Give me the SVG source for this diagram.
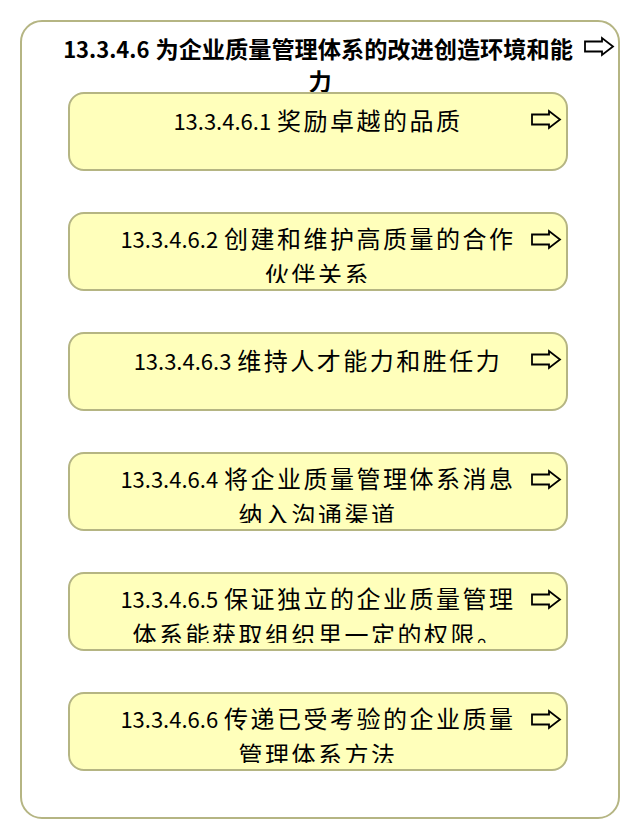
<svg xmlns="http://www.w3.org/2000/svg" xmlns:xlink="http://www.w3.org/1999/xlink" width="640" height="840" viewBox="0 0 640 840">
<style>
.outer{fill:#ffffff;stroke:#b5b583;stroke-width:2}
.box{fill:#ffffbb;stroke:#b5b583;stroke-width:2}
.t{font-family:"Noto Sans CJK SC","Noto Sans",sans-serif;font-size:22px;fill:#000;text-anchor:middle}
.title{font-weight:bold}
.cj{font-size:24px;letter-spacing:2.5px}
.cjt{font-size:23.2px}
.arr{fill:none;stroke:#000;stroke-width:1.8;stroke-linejoin:miter}
</style>
<defs>
<path id="arrow" d="M0,-5 H17 V-8.5 L28,0 L17,8.5 V5 H0 Z"/>
<clipPath id="c2"><rect x="69" y="213" width="498" height="70"/></clipPath>
<clipPath id="c4"><rect x="69" y="453" width="498" height="70"/></clipPath>
<clipPath id="c5"><rect x="69" y="573" width="498" height="70"/></clipPath>
<clipPath id="c6"><rect x="69" y="693" width="498" height="70"/></clipPath>
</defs>
<g id="parent">
<rect class="outer" x="21" y="21" width="598" height="797" rx="21"/>
<text class="t title" x="318" y="58"><tspan>13.3.4.6</tspan><tspan class="cjt" dx="6">为企业质量管理体系的改进创造环境和能</tspan></text>
<text class="t title" x="320" y="90"><tspan class="cjt">力</tspan></text>
<use xlink:href="#arrow" class="arr" transform="translate(585,46.5)"/>
</g>
<g id="connectors"></g>
<g id="n1">
<rect class="box" x="69" y="93" width="498" height="77" rx="15"/>
<text class="t" x="318" y="130"><tspan>13.3.4.6.1</tspan><tspan class="cj" dx="6">奖励卓越的品质</tspan></text>
<use xlink:href="#arrow" class="arr" transform="translate(532,119.5)"/>
</g>
<g id="n2">
<rect class="box" x="69" y="213" width="498" height="77" rx="15"/>
<g clip-path="url(#c2)">
<text class="t" x="318" y="248"><tspan>13.3.4.6.2</tspan><tspan class="cj" dx="6">创建和维护高质量的合作</tspan></text>
<text class="t" x="318" y="284"><tspan class="cj">伙伴关系</tspan></text>
</g>
<use xlink:href="#arrow" class="arr" transform="translate(532,239.5)"/>
</g>
<g id="n3">
<rect class="box" x="69" y="333" width="498" height="77" rx="15"/>
<text class="t" x="318" y="370"><tspan>13.3.4.6.3</tspan><tspan class="cj" dx="6">维持人才能力和胜任力</tspan></text>
<use xlink:href="#arrow" class="arr" transform="translate(532,359.5)"/>
</g>
<g id="n4">
<rect class="box" x="69" y="453" width="498" height="77" rx="15"/>
<g clip-path="url(#c4)">
<text class="t" x="318" y="488"><tspan>13.3.4.6.4</tspan><tspan class="cj" dx="6">将企业质量管理体系消息</tspan></text>
<text class="t" x="318" y="524"><tspan class="cj">纳入沟通渠道</tspan></text>
</g>
<use xlink:href="#arrow" class="arr" transform="translate(532,479.5)"/>
</g>
<g id="n5">
<rect class="box" x="69" y="573" width="498" height="77" rx="15"/>
<g clip-path="url(#c5)">
<text class="t" x="318" y="608"><tspan>13.3.4.6.5</tspan><tspan class="cj" dx="6">保证独立的企业质量管理</tspan></text>
<text class="t" x="318" y="644"><tspan class="cj">体系能获取组织里一定的权限。</tspan></text>
</g>
<use xlink:href="#arrow" class="arr" transform="translate(532,599.5)"/>
</g>
<g id="n6">
<rect class="box" x="69" y="693" width="498" height="77" rx="15"/>
<g clip-path="url(#c6)">
<text class="t" x="318" y="728"><tspan>13.3.4.6.6</tspan><tspan class="cj" dx="6">传递已受考验的企业质量</tspan></text>
<text class="t" x="318" y="764"><tspan class="cj">管理体系方法</tspan></text>
</g>
<use xlink:href="#arrow" class="arr" transform="translate(532,719.5)"/>
</g>
</svg>
